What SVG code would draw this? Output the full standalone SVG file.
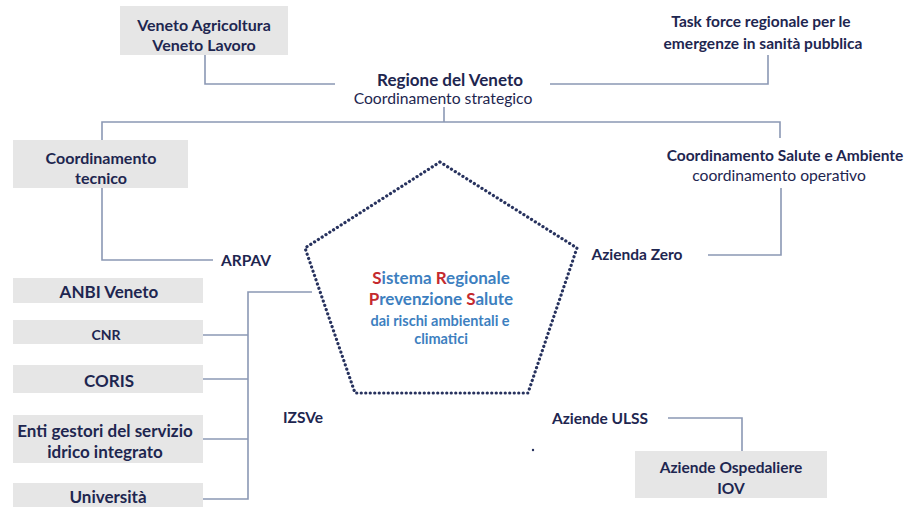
<svg xmlns="http://www.w3.org/2000/svg" width="917" height="514" viewBox="0 0 917 514">
<style>
text{font-family:Lato,"Liberation Sans",sans-serif;fill:#1e2650;text-anchor:middle;dominant-baseline:central}
.b{font-weight:bold;font-size:15.5px}
.bx{font-weight:bold;font-size:17px}
.r{font-weight:normal;font-size:15.7px}
.box{fill:#e6e6e6}
.ln{fill:none;stroke:#8b98b4;stroke-width:1.6}
.pt{font-weight:bold;font-size:17px;fill:#3d7fc0}
.ps{font-weight:bold;font-size:14.5px;fill:#3d7fc0}
.red{fill:#c42a2e}
.pent{fill:none;stroke:#27325e;stroke-width:3.2;stroke-linecap:round;stroke-dasharray:0.1 4.4}
</style>
<rect width="917" height="514" fill="#ffffff"/>
<g id="connectors">
<polyline class="ln" points="205,55 205,84 335,84"/>
<polyline class="ln" points="550,84 768,84 768,55"/>
<line class="ln" x1="444" y1="107" x2="444" y2="122"/>
<polyline class="ln" points="102,140 102,122 780,122 780,138"/>
<polyline class="ln" points="102,188 102,260 213,260"/>
<polyline class="ln" points="781,188 781,255 708,255"/>
<polyline class="ln" points="312,292 248,292 248,499 203,499"/>
<line class="ln" x1="203" y1="335" x2="248" y2="335"/>
<line class="ln" x1="203" y1="379" x2="248" y2="379"/>
<line class="ln" x1="203" y1="439" x2="248" y2="439"/>
<polyline class="ln" points="668,418 742,418 742,451"/>
</g>
<g id="veneto-agricoltura">
<rect class="box" x="120" y="6" width="168" height="49"/>
<text class="b" x="204" y="24" style="font-size:16px">Veneto Agricoltura</text>
<text class="b" x="204" y="44" style="font-size:16px">Veneto Lavoro</text>
</g>
<g id="task-force">
<text class="b" x="761" y="21">Task force regionale per le</text>
<text class="b" x="763" y="43">emergenze in sanità pubblica</text>
</g>
<g id="regione">
<text class="b" x="450" y="79" style="font-size:17px">Regione del Veneto</text>
<text class="r" x="443" y="98">Coordinamento strategico</text>
</g>
<g id="coordinamento-tecnico">
<rect class="box" x="13" y="140" width="175" height="48"/>
<text class="b" x="101" y="157" style="font-size:16px">Coordinamento</text>
<text class="b" x="101" y="177" style="font-size:16px">tecnico</text>
</g>
<g id="coordinamento-salute">
<text class="b" x="785" y="155">Coordinamento Salute e Ambiente</text>
<text class="r" x="779" y="175">coordinamento operativo</text>
</g>
<g id="arpav"><text class="b" x="246" y="260">ARPAV</text></g>
<g id="azienda-zero"><text class="b" x="637" y="254">Azienda Zero</text></g>
<g id="sistema">
<polygon class="pent" points="440,162 577,248 528,393 355,393 305,248"/>
<text class="pt" x="441" y="277"><tspan class="red">S</tspan>istema <tspan class="red">R</tspan>egionale</text>
<text class="pt" x="441" y="298"><tspan class="red">P</tspan>revenzione <tspan class="red">S</tspan>alute</text>
<text class="ps" x="440" y="320">dai rischi ambientali e</text>
<text class="ps" x="441" y="338">climatici</text>
</g>
<g id="anbi">
<rect class="box" x="13" y="278" width="190" height="25"/>
<text class="bx" x="109" y="291">ANBI Veneto</text>
</g>
<g id="cnr">
<rect class="box" x="13" y="320" width="190" height="24"/>
<text class="b" x="106" y="334" style="font-size:14px">CNR</text>
</g>
<g id="coris">
<rect class="box" x="13" y="365" width="190" height="28"/>
<text class="bx" x="109" y="380">CORIS</text>
</g>
<g id="enti-gestori">
<rect class="box" x="13" y="415" width="190" height="48"/>
<text class="bx" x="105" y="430">Enti gestori del servizio</text>
<text class="bx" x="105" y="451">idrico integrato</text>
</g>
<g id="universita">
<rect class="box" x="13" y="483" width="190" height="24"/>
<text class="bx" x="108" y="496">Università</text>
</g>
<g id="izsve"><text class="b" x="303" y="417">IZSVe</text></g>
<g id="aziende-ulss"><text class="b" x="600" y="418">Aziende ULSS</text></g>
<g id="aziende-ospedaliere">
<rect class="box" x="635" y="451" width="192" height="47"/>
<text class="b" x="731" y="467">Aziende Ospedaliere</text>
<text class="b" x="731" y="488">IOV</text>
</g>
<circle cx="533" cy="450" r="1.2" fill="#27325e"/>
</svg>
